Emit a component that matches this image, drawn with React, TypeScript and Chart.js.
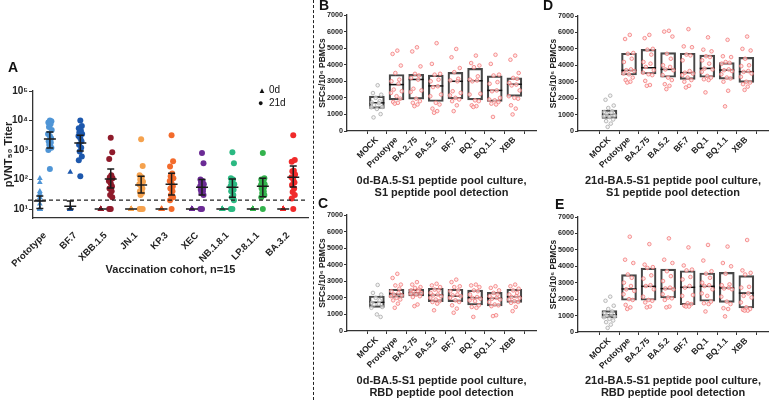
import React, { useEffect, useRef } from 'react';
import { Chart, registerables } from 'chart.js';

Chart.register(...registerables);

const FONT = "'Liberation Sans', Arial, Helvetica, sans-serif";

// ---------- Panel A: pseudovirus neutralising titres (pVNT50) ----------
const variants = ['Prototype', 'BF.7', 'XBB.1.5', 'JN.1', 'KP.3', 'XEC', 'NB.1.8.1', 'LP.8.1.1', 'BA.3.2'];
const variantColors = ['#4f95d6', '#1d58ad', '#8f1b2b', '#f5a24e', '#f36b2c', '#6b2b95', '#2bb982', '#33b34d', '#f02a2a'];

const titer0d = [
  [110, 80, 40, 35, 30, 25, 20, 15, 10, 10, 10, 10, 10, 10, 10],
  [180, 10, 10, 10, 10, 10, 10, 10, 10, 10, 10, 10, 10, 10, 10],
  [10, 10, 10, 10, 10, 10, 10, 10, 10, 10, 10, 10, 10, 10, 10],
  [10, 10, 10, 10, 10, 10, 10, 10, 10, 10, 10, 10, 10, 10, 10],
  [10, 10, 10, 10, 10, 10, 10, 10, 10, 10, 10, 10, 10, 10, 10],
  [10, 10, 10, 10, 10, 10, 10, 10, 10, 10, 10, 10, 10, 10, 10],
  [10, 10, 10, 10, 10, 10, 10, 10, 10, 10, 10, 10, 10, 10, 10],
  [10, 10, 10, 10, 10, 10, 10, 10, 10, 10, 10, 10, 10, 10, 10],
  [10, 10, 10, 10, 10, 10, 10, 10, 10, 10, 10, 10, 10, 10, 10],
];
const titer21d = [
  [10000, 9500, 8500, 7500, 6000, 4800, 3500, 3000, 2500, 2000, 1800, 1500, 1200, 1000, 230],
  [10000, 6500, 5500, 4500, 4000, 3500, 3000, 2500, 2000, 1500, 1200, 900, 600, 450, 130],
  [2600, 850, 500, 140, 120, 110, 90, 75, 60, 50, 40, 30, 25, 10, 10],
  [2300, 290, 140, 120, 100, 85, 70, 60, 50, 40, 35, 30, 10, 10, 10],
  [3200, 420, 280, 160, 130, 110, 90, 75, 60, 50, 40, 30, 25, 20, 10],
  [800, 360, 100, 90, 80, 70, 60, 55, 50, 45, 40, 35, 30, 10, 10],
  [850, 360, 110, 100, 80, 70, 60, 50, 45, 40, 30, 25, 20, 10, 10],
  [800, 110, 100, 90, 80, 70, 65, 60, 55, 50, 40, 35, 30, 25, 10],
  [3200, 460, 400, 200, 190, 150, 120, 100, 80, 65, 50, 38, 30, 23, 10],
];
// geometric mean titre with 95% CI
const gmt0d = [19, 12.6, 10, 10, 10, 10, 10, 10, 10];
const ciLow0d = [10.5, 10, 10, 10, 10, 10, 10, 10, 10];
const ciHigh0d = [28, 18.7, 10, 10, 10, 10, 10, 10, 10];
const gmt21d = [2350, 1740, 105, 65, 70, 55, 55, 60, 120];
const ciLow21d = [1180, 930, 52, 35, 30, 30, 25, 26, 56];
const ciHigh21d = [4100, 3200, 230, 130, 165, 100, 105, 110, 290];
const LOD_TITER = 20;
const titerTicks = [10, 100, 1000, 10000, 100000];
const SUPERSCRIPT = ['⁰', '¹', '²', '³', '⁴', '⁵', '⁶'];

// ---------- Panels B–E: ELISpot spot-forming cells ----------
const peptides = ['MOCK', 'Prototype', 'BA.2.75', 'BA.5.2', 'BF.7', 'BQ.1', 'BQ.1.1', 'XBB'];
const sfcTicks = [0, 1000, 2000, 3000, 4000, 5000, 6000, 7000];

const sfcB = [
  [2760, 2290, 2190, 2000, 1800, 1720, 1680, 1570, 1450, 1430, 1330, 1020, 820],
  [4850, 4650, 3950, 3500, 3100, 3000, 2850, 2500, 2400, 2300, 2100, 1950, 1750, 1700, 1650],
  [5050, 4800, 3900, 3450, 3350, 3200, 3100, 2550, 2450, 2350, 1950, 1800, 1700, 1600, 1500],
  [5300, 4050, 3450, 3400, 3100, 3000, 2700, 2650, 2200, 2100, 1700, 1600, 1350, 1200, 1100],
  [4950, 4450, 3800, 3550, 3150, 3050, 3000, 2400, 2300, 2150, 2000, 1900, 1800, 1550, 1200],
  [4550, 4100, 3950, 3850, 3300, 3100, 3050, 3000, 2250, 2200, 1850, 1800, 1550, 1500, 1450],
  [4600, 4050, 3400, 3350, 2950, 2850, 2450, 2400, 2000, 1900, 1850, 1750, 1650, 1600, 850],
  [4550, 4300, 3500, 3200, 3150, 2900, 2800, 2750, 2450, 2100, 2000, 1950, 1550, 1350, 1000],
];
const q1B = [1370, 1880, 1920, 1780, 1940, 1880, 1780, 2090];
const medianB = [1700, 2800, 3110, 2720, 3000, 3030, 2450, 2820];
const q3B = [2100, 3410, 3420, 3370, 3540, 3780, 3330, 3210];

const sfcC = [
  [2780, 2300, 2200, 2000, 1850, 1700, 1650, 1600, 1450, 1400, 1000, 850],
  [3450, 3200, 2800, 2750, 2550, 2400, 2300, 2200, 2150, 2100, 2000, 1900, 1850, 1650, 1400],
  [2950, 2800, 2650, 2600, 2500, 2450, 2400, 2350, 2300, 2250, 2200, 2100, 2050, 1600, 1500],
  [2850, 2750, 2650, 2500, 2450, 2300, 2200, 2150, 2100, 2000, 1900, 1800, 1750, 1650, 1250],
  [3100, 2950, 2700, 2650, 2450, 2400, 2200, 2150, 2100, 2000, 1850, 1750, 1550, 1350, 1100],
  [2800, 2750, 2650, 2450, 2400, 2200, 2050, 2000, 1950, 1850, 1800, 1550, 1450, 1400, 850],
  [2700, 2600, 2450, 2300, 2200, 2100, 2000, 1950, 1900, 1750, 1600, 1550, 1500, 950, 900],
  [2800, 2700, 2550, 2450, 2300, 2200, 2100, 2050, 2000, 1900, 1800, 1750, 1700, 1450, 1200],
];
const q1C = [1430, 2030, 2110, 1770, 1770, 1570, 1510, 1730];
const medianC = [1730, 2230, 2310, 2170, 2110, 2010, 1970, 2070];
const q3C = [2110, 2520, 2520, 2580, 2520, 2470, 2330, 2520];

const sfcD = [
  [2150, 1900, 1550, 1400, 1200, 1150, 1100, 1050, 950, 900, 850, 700, 600, 450, 250],
  [5850, 5600, 4750, 4700, 4400, 4200, 3750, 3700, 3650, 3500, 3450, 3250, 3100, 3000, 2950],
  [5850, 5650, 5000, 4950, 4650, 4200, 4100, 3900, 3700, 3550, 3450, 3400, 3050, 2800, 2750],
  [6100, 6050, 5750, 4700, 4400, 4000, 3900, 3750, 3700, 3400, 3250, 3100, 2850, 2750, 2550],
  [6200, 5150, 5100, 4650, 4600, 4300, 3650, 3550, 3500, 3400, 3250, 3100, 3000, 2750, 2650],
  [5700, 4950, 4850, 4550, 4500, 4300, 4100, 3800, 3750, 3600, 3350, 3250, 3150, 3100, 2350],
  [5550, 4550, 4500, 4200, 4150, 4100, 3750, 3700, 3650, 3450, 3250, 3200, 3000, 2450, 1500],
  [5750, 5000, 4900, 4400, 4000, 3950, 3650, 3600, 3500, 3300, 3000, 2950, 2850, 2700, 2500],
];
const q1D = [770, 3410, 3470, 3270, 3140, 3270, 3160, 2960];
const medianD = [1010, 3690, 3850, 3750, 3550, 3810, 3710, 3610];
const q3D = [1280, 4730, 4970, 4770, 4730, 4620, 4160, 4480];

const sfcE = [
  [2150, 1900, 1600, 1400, 1250, 1150, 1100, 1000, 950, 900, 800, 700, 600, 450, 250],
  [5800, 4400, 4200, 3500, 3300, 3000, 2800, 2600, 2500, 2300, 2000, 1950, 1650, 1500, 1400],
  [5350, 4100, 3950, 3900, 3450, 3250, 2850, 2800, 2600, 2150, 1950, 1900, 1800, 1550, 1500],
  [5700, 4400, 4200, 3700, 3400, 3100, 2700, 2650, 2600, 2300, 2100, 2050, 1950, 1550, 1500],
  [5150, 4050, 3800, 3750, 3350, 3200, 2800, 2700, 2250, 2200, 1750, 1700, 1600, 1550, 1550],
  [5300, 4350, 3700, 3550, 3300, 3000, 2850, 2800, 2600, 2350, 2200, 1850, 1750, 1700, 1250],
  [5200, 4200, 4000, 3550, 2900, 2850, 2700, 2650, 2600, 2150, 1850, 1700, 1450, 1400, 950],
  [5600, 3750, 3600, 3500, 2750, 2700, 2350, 2200, 2100, 1800, 1500, 1400, 1350, 1300, 1300],
];
const q1E = [850, 1930, 1930, 2070, 1660, 1870, 1800, 1460];
const medianE = [1050, 2620, 2780, 2640, 2720, 2780, 2680, 2370];
const q3E = [1300, 3490, 3890, 3830, 3730, 3590, 3630, 3430];

// horizontal scatter offsets (in category units) so overlapping dots stay visible
const SWARM = [0.04, -0.2, 0.22, -0.06, 0.14, -0.26, 0.1, -0.14, 0.27, -0.28, 0.0, 0.19, -0.17, 0.07, -0.09];
const COLUMN = [0, 0.05, -0.05, 0.02, -0.03, 0.06, -0.06, 0, 0.04, -0.04, 0.03, -0.02, 0.05, -0.05, 0];
const DAY_SHIFT = 0.165;

const bold = (size: number, lineHeight = 1.2) => ({ family: FONT, weight: 'bold' as const, size, lineHeight });

function NeutralizationPanel() {
  const ref = useRef<HTMLCanvasElement | null>(null);
  useEffect(() => {
    if (!ref.current) return;
    const errorBars = {
      id: 'gmtErrorBars',
      afterDatasetsDraw(chart: any) {
        const { ctx, chartArea } = chart;
        const x = chart.scales.x;
        const y = chart.scales.y;
        ctx.save();
        const ly = y.getPixelForValue(LOD_TITER);
        ctx.setLineDash([4, 3]);
        ctx.strokeStyle = '#222';
        ctx.lineWidth = 1.2;
        ctx.beginPath();
        ctx.moveTo(chartArea.left - 5, ly);
        ctx.lineTo(chartArea.right, ly);
        ctx.stroke();
        ctx.setLineDash([]);
        ctx.strokeStyle = '#1b1b1b';
        ctx.lineWidth = 1.5;
        const draw = (pos: number, g: number, lo: number, hi: number) => {
          const cx = x.getPixelForValue(pos);
          const gy = y.getPixelForValue(g);
          const ylo = y.getPixelForValue(lo);
          const yhi = y.getPixelForValue(hi);
          ctx.beginPath();
          ctx.moveTo(cx - 6, gy); ctx.lineTo(cx + 6, gy);
          ctx.moveTo(cx, ylo); ctx.lineTo(cx, yhi);
          ctx.moveTo(cx - 3.5, ylo); ctx.lineTo(cx + 3.5, ylo);
          ctx.moveTo(cx - 3.5, yhi); ctx.lineTo(cx + 3.5, yhi);
          ctx.stroke();
        };
        variants.forEach((_, i) => {
          draw(i - DAY_SHIFT, gmt0d[i], ciLow0d[i], ciHigh0d[i]);
          draw(i + DAY_SHIFT, gmt21d[i], ciLow21d[i], ciHigh21d[i]);
        });
        ctx.restore();
      },
    };

    const datasets: any[] = [];
    variants.forEach((name, i) => {
      datasets.push({
        label: name + ' 0d',
        data: titer0d[i].map((v) => ({ x: i - DAY_SHIFT, y: v })),
        pointStyle: 'triangle',
        pointRadius: 3.3,
        backgroundColor: variantColors[i],
        borderColor: variantColors[i],
        borderWidth: 0,
      });
      datasets.push({
        label: name + ' 21d',
        data: titer21d[i].map((v, k) => ({ x: i + DAY_SHIFT + COLUMN[k % COLUMN.length], y: v })),
        pointStyle: 'circle',
        pointRadius: 3,
        backgroundColor: variantColors[i],
        borderColor: variantColors[i],
        borderWidth: 0,
      });
    });

    const chart = new Chart(ref.current, {
      type: 'scatter',
      data: { datasets },
      plugins: [errorBars],
      options: {
        animation: false,
        responsive: false,
        events: [],
        layout: { padding: { top: 91, right: 1, left: 0, bottom: 0 } },
        plugins: { legend: { display: false }, tooltip: { enabled: false } },
        scales: {
          x: {
            type: 'linear',
            min: -0.39,
            max: 8.65,
            afterBuildTicks: (s: any) => { s.ticks = variants.map((_, i) => ({ value: i })); },
            afterFit: (s: any) => { s.height = 62; },
            grid: { display: false },
            border: { color: '#333', width: 1.3 },
            ticks: {
              autoSkip: false,
              minRotation: 45,
              maxRotation: 45,
              padding: 4,
              color: '#222',
              font: bold(9.5),
              callback: (v: any) => variants[v],
            },
            title: { display: true, text: 'Vaccination cohort, n=15', color: '#222', font: bold(11), padding: { top: 0, bottom: 3 } },
          },
          y: {
            type: 'logarithmic',
            min: 5,
            max: 100000,
            afterBuildTicks: (s: any) => { s.ticks = titerTicks.map((v) => ({ value: v })); },
            afterFit: (s: any) => { s.width = 33; },
            grid: { drawOnChartArea: false, tickLength: 4, color: '#333' },
            border: { color: '#333', width: 1.3 },
            ticks: {
              padding: 1,
              color: '#222',
              font: bold(10),
              callback: (v: any) => '10' + SUPERSCRIPT[Math.round(Math.log10(v))],
            },
            title: { display: true, text: 'pVNT₅₀ Titer', color: '#222', font: bold(11), padding: { top: 2, bottom: 0 } },
          },
        },
      } as any,
    });
    return () => chart.destroy();
  }, []);
  return <canvas ref={ref} width={312} height={280} style={{ position: 'absolute', left: 0, top: 0, width: 312, height: 280 }} />;
}

type SpotProps = {
  left: number; top: number; width: number; height: number;
  points: number[][]; q1: number[]; median: number[]; q3: number[];
  title: string[];
  padTop: number; padRight: number; xAxisHeight: number; xMin: number; xMax: number;
};

function SpotPanel(p: SpotProps) {
  const ref = useRef<HTMLCanvasElement | null>(null);
  useEffect(() => {
    if (!ref.current) return;
    const mockDots = p.points[0].map((v, k) => ({ x: SWARM[k % SWARM.length], y: v }));
    const variantDots = p.points.slice(1).flatMap((vals, j) =>
      vals.map((v, k) => ({ x: j + 1 + SWARM[k % SWARM.length], y: v })));
    const chart = new Chart(ref.current, {
      type: 'scatter',
      data: {
        datasets: [
          {
            type: 'bar',
            data: peptides.map((_, i) => ({ x: i, y: [p.q1[i], p.q3[i]] })),
            backgroundColor: 'rgba(0,0,0,0)',
            borderColor: '#474747',
            borderWidth: 1.5,
            borderSkipped: false,
            barThickness: 15,
            order: 2,
          },
          {
            type: 'scatter',
            data: peptides.map((_, i) => ({ x: i, y: p.median[i] })),
            pointStyle: 'line',
            pointRadius: 7.5,
            borderColor: '#111',
            borderWidth: 1.5,
            order: 1,
          },
          {
            type: 'scatter',
            data: mockDots,
            pointRadius: 1.8,
            borderColor: '#aaaaaa',
            backgroundColor: 'rgba(240,240,240,0.7)',
            borderWidth: 0.8,
            order: 0,
          },
          {
            type: 'scatter',
            data: variantDots,
            pointRadius: 1.8,
            borderColor: '#f27a7a',
            backgroundColor: 'rgba(255,222,222,0.7)',
            borderWidth: 0.8,
            order: 0,
          },
        ],
      },
      options: {
        animation: false,
        responsive: false,
        events: [],
        layout: { padding: { top: p.padTop, right: p.padRight, left: 0, bottom: 0 } },
        plugins: { legend: { display: false }, tooltip: { enabled: false } },
        scales: {
          x: {
            type: 'linear',
            min: p.xMin,
            max: p.xMax,
            afterBuildTicks: (s: any) => { s.ticks = peptides.map((_, i) => ({ value: i })); },
            afterFit: (s: any) => { s.height = p.xAxisHeight; },
            grid: { drawOnChartArea: false, tickLength: 3, color: '#333' },
            border: { color: '#333', width: 1.3 },
            ticks: {
              autoSkip: false,
              minRotation: 45,
              maxRotation: 45,
              padding: 1,
              color: '#222',
              font: bold(8.5),
              callback: (v: any) => peptides[v],
            },
            title: { display: true, text: p.title, color: '#222', font: bold(11, 1.1), padding: { top: 0, bottom: 1 } },
          },
          y: {
            type: 'linear',
            min: 0,
            max: 7000,
            afterBuildTicks: (s: any) => { s.ticks = sfcTicks.map((v) => ({ value: v })); },
            afterFit: (s: any) => { s.width = 33; },
            grid: { drawOnChartArea: false, tickLength: 3, color: '#333' },
            border: { color: '#333', width: 1.3 },
            ticks: { padding: 1, color: '#222', font: bold(7.2), callback: (v: any) => String(v) },
            title: { display: true, text: 'SFCs/10⁶ PBMCs', color: '#222', font: bold(8.5), padding: { top: 4, bottom: 0 } },
          },
        },
      } as any,
    });
    return () => chart.destroy();
  }, []);
  return (
    <canvas
      ref={ref}
      width={p.width}
      height={p.height}
      style={{ position: 'absolute', left: p.left, top: p.top, width: p.width, height: p.height }}
    />
  );
}

const letterStyle = (left: number, top: number): React.CSSProperties => ({
  position: 'absolute', left, top, fontFamily: FONT, fontWeight: 'bold', fontSize: 14, lineHeight: '14px', color: '#111',
});

export default function App() {
  return (
    <div style={{ position: 'absolute', left: 0, top: 0, width: 777, height: 400, background: '#fff', overflow: 'hidden' }}>
      <NeutralizationPanel />
      <div style={{ position: 'absolute', left: 258, top: 84, fontFamily: FONT, fontSize: 10, lineHeight: '12px', color: '#111' }}>
        <div><span style={{ fontSize: 8, display: 'inline-block', width: 11 }}>▲</span>0d</div>
        <div><span style={{ fontSize: 9, display: 'inline-block', width: 11 }}>●</span>21d</div>
      </div>
      <div style={{ position: 'absolute', left: 313, top: 0, height: 400, borderLeft: '1px dashed #222' }} />
      <SpotPanel left={314} top={0} width={231} height={200} points={sfcB} q1={q1B} median={medianB} q3={q3B}
        title={['0d-BA.5-S1 peptide pool culture,', 'S1 peptide pool detection']}
        padTop={15} padRight={4.5} xAxisHeight={69} xMin={-0.92} xMax={7.5} />
      <SpotPanel left={314} top={200} width={231} height={200} points={sfcC} q1={q1C} median={medianC} q3={q3C}
        title={['0d-BA.5-S1 peptide pool culture,', 'RBD peptide pool detection']}
        padTop={15} padRight={4.5} xAxisHeight={69} xMin={-0.92} xMax={7.5} />
      <SpotPanel left={545} top={0} width={232} height={200} points={sfcD} q1={q1D} median={medianD} q3={q3D}
        title={['21d-BA.5-S1 peptide pool culture,', 'S1 peptide pool detection']}
        padTop={16} padRight={4.4} xAxisHeight={69} xMin={-1} xMax={7.5} />
      <SpotPanel left={545} top={200} width={232} height={200} points={sfcE} q1={q1E} median={medianE} q3={q3E}
        title={['21d-BA.5-S1 peptide pool culture,', 'RBD peptide pool detection']}
        padTop={17} padRight={4.4} xAxisHeight={68} xMin={-1} xMax={7.5} />
      <div style={letterStyle(8, 60)}>A</div>
      <div style={letterStyle(319, -2)}>B</div>
      <div style={letterStyle(318, 196)}>C</div>
      <div style={letterStyle(543, -2)}>D</div>
      <div style={letterStyle(555, 197)}>E</div>
    </div>
  );
}
